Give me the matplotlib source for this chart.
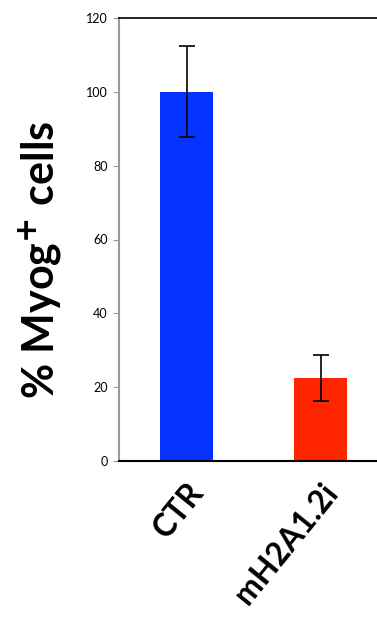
import matplotlib
matplotlib.use("Agg")
import matplotlib.pyplot as plt

plt.rcParams['font.family'] = ['Lato', 'DejaVu Sans']

# data
groups = ['CTR', 'mH2A1.2i']
values = [100.0, 22.5]
errors = [12.3, 6.3]
colors = ['#0433ff', '#ff2600']

fig = plt.figure(figsize=(3.77, 6.17), dpi=100)
ax = fig.add_axes([119 / 377, 156 / 617, 1 - 119 / 377, 443 / 617])

x = range(len(groups))
ax.bar(x, values, width=0.4, color=colors, zorder=2)
ax.errorbar(x, values, yerr=errors, fmt='none', ecolor='black',
            elinewidth=1.2, capsize=6, capthick=1.2, zorder=3)

ax.set_ylim(0, 120)
ax.set_yticks(range(0, 121, 20))
ax.set_xlim(-0.504, 1.42)
ax.set_xticks(list(x))
ax.set_xticklabels(groups, rotation=51, ha='right', rotation_mode='anchor',
                   fontsize=23, fontweight='bold')
ax.tick_params(axis='x', length=0, pad=12)
ax.tick_params(axis='y', length=4, color='#999999', labelsize=9, pad=4)

ax.spines['left'].set_color('#999999')
ax.spines['left'].set_linewidth(1.5)
ax.spines['top'].set_linewidth(1.2)
ax.spines['bottom'].set_linewidth(1.5)
ax.spines['right'].set_visible(False)

ax.set_ylabel('% Myog$^{\\mathbf{+}}$ cells', fontsize=31, fontweight='bold')
ax.yaxis.set_label_coords(-0.215, 0.454)

fig.savefig('out.png', dpi=100)
